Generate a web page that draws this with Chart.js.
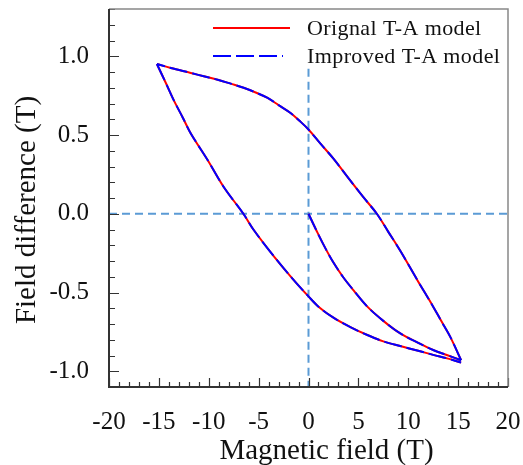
<!DOCTYPE html>
<html>
<head>
<meta charset="utf-8">
<script src="https://cdn.jsdelivr.net/npm/chart.js@4.4.0/dist/chart.umd.min.js"></script>
<style>
html, body { margin: 0; padding: 0; background: #fff; }
#wrap { width: 523px; height: 465px; }
</style>
</head>
<body>
<div id="wrap"><canvas id="loopChart"></canvas></div>
<script>
const seriesLabels = ['Orignal T-A model', 'Improved T-A model'];

// initial magnetisation curve, 0 -> +15.3 T
const initialX = [0, 0.9, 1.7, 2.5, 3.5, 4.5, 5.9, 7.5, 9.2, 11.0, 12.5, 14.0, 15.3];
const initialY = [0, -0.12, -0.22, -0.31, -0.405, -0.485, -0.59, -0.68, -0.76, -0.82, -0.865, -0.90, -0.93];

// descending branch, +15.3 -> -15.2 T
const upperX = [15.3, 14.2, 13.3, 12.5, 10.9, 9.2, 8.0, 6.85, 5.5, 4.2, 2.5, 1.2, 0, -0.9, -1.8, -3.0, -4.1, -5.3, -6.5, -7.8, -9.1, -10.5, -11.8, -13.8, -15.2];
const upperY = [-0.93, -0.78, -0.68, -0.59, -0.42, -0.235, -0.115, 0, 0.105, 0.21, 0.35, 0.445, 0.535, 0.59, 0.64, 0.69, 0.735, 0.77, 0.80, 0.826, 0.851, 0.873, 0.894, 0.925, 0.951];

// ascending branch, -15.2 -> +15.3 T
const lowerX = [-15.2, -14.3, -13.5, -12.6, -11.8, -10.1, -8.5, -6.53, -5.47, -3.47, -1.63, 0, 1.0, 2.5, 4.2, 5.9, 7.5, 9.2, 11.0, 12.5, 14.0, 15.3];
const lowerY = [0.951, 0.83, 0.72, 0.61, 0.51, 0.34, 0.17, 0, -0.105, -0.27, -0.41, -0.525, -0.59, -0.66, -0.72, -0.77, -0.81, -0.84, -0.87, -0.896, -0.92, -0.945];

// dashed zero lines
const hLineX = [-20, 20];
const hLineY = [0, 0];
const vLineX = [0, 0];
const vLineY = [0.92, -1.1];

const xTicks = [-20, -15, -10, -5, 0, 5, 10, 15, 20];
const yTicks = [-1.0, -0.5, 0.0, 0.5, 1.0];
const xRange = [-20, 20];
const yRange = [-1.1, 1.3];
const xTitle = 'Magnetic field (T)';
const yTitle = 'Field difference (T)';

const FONT = '"Liberation Serif", "Times New Roman", serif';
const RED = '#ff0000';
const BLUE = '#0000ff';
const REF = '#5b9bd5';
const BLUE_DASH = [18, 5];

const toPoints = (xs, ys) => xs.map((x, i) => ({ x: x, y: ys[i] }));
const loopPoints = () => [
    ...toPoints(initialX, initialY), { x: null, y: null },
    ...toPoints(upperX, upperY), { x: null, y: null },
    ...toPoints(lowerX, lowerY)
];
const noPad = s => { s.paddingTop = 0; s.paddingBottom = 0; s.paddingLeft = 0; s.paddingRight = 0; };

const decorPlugin = {
    id: 'decor',
    afterDraw(chart) {
        const { ctx, chartArea: a, scales: { x, y } } = chart;
        ctx.save();
        // inward ticks
        ctx.strokeStyle = '#333';
        ctx.lineWidth = 1.2;
        ctx.beginPath();
        for (let v = xRange[0]; v <= xRange[1]; v++) {
            const px = Math.round(x.getPixelForValue(v)) + 0.5;
            const len = v % 5 === 0 ? 9 : 5;
            ctx.moveTo(px, a.bottom);
            ctx.lineTo(px, a.bottom - len);
        }
        for (let i = Math.round(yRange[0] * 10); i <= Math.round(yRange[1] * 10); i++) {
            const py = Math.round(y.getPixelForValue(i / 10)) + 0.5;
            const len = i % 5 === 0 ? 10 : 6;
            ctx.moveTo(a.left, py);
            ctx.lineTo(a.left + len, py);
        }
        ctx.stroke();
        // frame
        ctx.lineWidth = 1.5;
        ctx.strokeStyle = '#888';
        ctx.beginPath();
        ctx.moveTo(a.left, a.top);
        ctx.lineTo(a.right, a.top);
        ctx.lineTo(a.right, a.bottom);
        ctx.stroke();
        ctx.lineWidth = 2;
        ctx.strokeStyle = '#333';
        ctx.beginPath();
        ctx.moveTo(a.left, a.top);
        ctx.lineTo(a.left, a.bottom);
        ctx.lineTo(a.right, a.bottom);
        ctx.stroke();
        // axis titles
        ctx.fillStyle = '#111';
        ctx.font = '29px ' + FONT;
        ctx.textAlign = 'center';
        ctx.textBaseline = 'alphabetic';
        ctx.fillText(xTitle, (a.left + a.right) / 2 + 18, a.bottom + 72);
        ctx.save();
        ctx.translate(35, (a.top + a.bottom) / 2 + 12);
        ctx.rotate(-Math.PI / 2);
        ctx.fillText(yTitle, 0, 0);
        ctx.restore();
        // legend
        const lx0 = a.left + 104, lx1 = a.left + 181, tx = a.left + 198;
        ctx.lineWidth = 2;
        ctx.strokeStyle = RED;
        ctx.beginPath();
        ctx.moveTo(lx0, a.top + 19);
        ctx.lineTo(lx1, a.top + 19);
        ctx.stroke();
        ctx.strokeStyle = BLUE;
        ctx.setLineDash(BLUE_DASH);
        ctx.beginPath();
        ctx.moveTo(lx0, a.top + 47);
        ctx.lineTo(lx1 - 7, a.top + 47);
        ctx.stroke();
        ctx.setLineDash([]);
        ctx.font = '22px ' + FONT;
        ctx.textAlign = 'left';
        ctx.letterSpacing = '0.4px';
        ctx.fillText(seriesLabels[0], tx, a.top + 26);
        ctx.fillText(seriesLabels[1], tx, a.top + 54);
        ctx.restore();
    }
};

new Chart(document.getElementById('loopChart').getContext('2d'), {
    type: 'scatter',
    data: {
        datasets: [
            {
                label: seriesLabels[0],
                data: loopPoints(),
                showLine: true,
                borderColor: RED,
                borderWidth: 2,
                pointRadius: 0,
                tension: 0.35,
                order: 2
            },
            {
                label: seriesLabels[1],
                data: loopPoints(),
                showLine: true,
                borderColor: BLUE,
                borderWidth: 2,
                borderDash: BLUE_DASH,
                pointRadius: 0,
                tension: 0.35,
                order: 1
            },
            {
                label: 'zeroH',
                data: toPoints(hLineX, hLineY),
                showLine: true,
                borderColor: REF,
                borderWidth: 2,
                borderDash: [8, 5],
                pointRadius: 0,
                order: 3
            },
            {
                label: 'zeroV',
                data: toPoints(vLineX, vLineY),
                showLine: true,
                borderColor: REF,
                borderWidth: 2,
                borderDash: [8, 5],
                pointRadius: 0,
                order: 3
            }
        ]
    },
    options: {
        responsive: true,
        maintainAspectRatio: false,
        animation: false,
        layout: { padding: { top: 9, right: 15, left: 0, bottom: 0 } },
        plugins: {
            legend: { display: false },
            tooltip: { enabled: false }
        },
        scales: {
            x: {
                type: 'linear',
                min: xRange[0],
                max: xRange[1],
                afterBuildTicks: s => { s.ticks = xTicks.map(v => ({ value: v })); },
                afterFit: s => { s.height = 78; noPad(s); },
                grid: { display: false },
                border: { display: false },
                ticks: {
                    autoSkip: false,
                    maxRotation: 0,
                    padding: 12,
                    color: '#111',
                    font: { family: FONT, size: 25 },
                    callback: v => String(v)
                }
            },
            y: {
                type: 'linear',
                min: yRange[0],
                max: yRange[1],
                afterBuildTicks: s => { s.ticks = yTicks.map(v => ({ value: v })); },
                afterFit: s => { s.width = 109; noPad(s); },
                grid: { display: false },
                border: { display: false },
                ticks: {
                    autoSkip: false,
                    padding: 12,
                    color: '#111',
                    font: { family: FONT, size: 25 },
                    callback: v => Number(v).toFixed(1)
                }
            }
        }
    },
    plugins: [decorPlugin]
});
</script>
</body>
</html>
